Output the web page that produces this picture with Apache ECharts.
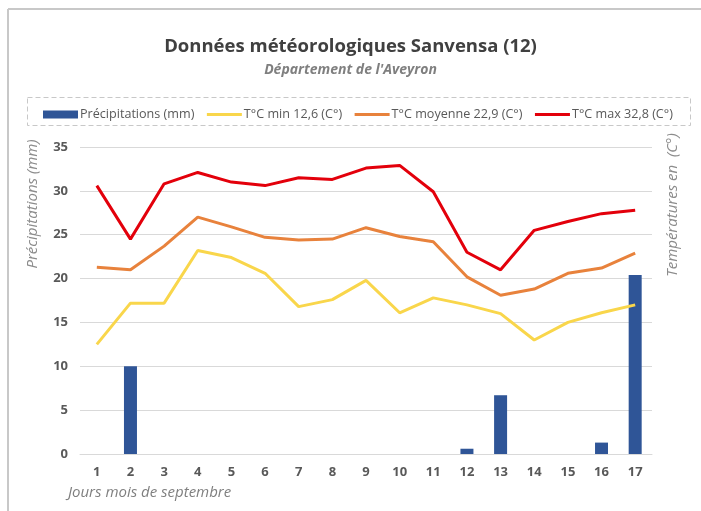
<!DOCTYPE html>
<html>
<head>
<meta charset="utf-8">
<script src="https://cdn.jsdelivr.net/npm/echarts@6/dist/echarts.min.js"></script>
<style>html,body{margin:0;padding:0;background:#fff;}#c{width:701px;height:511px;}</style>
</head>
<body>
<div id="c"></div>
<script>
const days = ['1','2','3','4','5','6','7','8','9','10','11','12','13','14','15','16','17'];
const precip = [0, 10.0, 0, 0, 0, 0, 0, 0, 0, 0, 0, 0.6, 6.7, 0, 0, 1.3, 20.4];
const tmin = [12.5, 17.2, 17.2, 23.2, 22.4, 20.6, 16.8, 17.6, 19.8, 16.1, 17.8, 17.0, 16.0, 13.0, 15.0, 16.1, 17.0];
const tmoy = [21.3, 21.0, 23.7, 27.0, 25.9, 24.7, 24.4, 24.5, 25.8, 24.8, 24.2, 20.2, 18.1, 18.8, 20.6, 21.2, 22.9];
const tmax = [30.6, 24.5, 30.8, 32.1, 31.0, 30.6, 31.5, 31.3, 32.6, 32.9, 29.9, 23.0, 21.0, 25.5, 26.5, 27.4, 27.8];
const seriesNames = ['Précipitations (mm)', 'T°C min 12,6 (C°)', 'T°C moyenne 22,9 (C°)', 'T°C max 32,8 (C°)'];

const chart = echarts.init(document.getElementById('c'), null, {renderer: 'canvas'});
const font = 'Open Sans';
const hiddenSym = {color: 'rgba(0,0,0,0)', borderColor: 'rgba(0,0,0,0)', borderWidth: 0, opacity: 0};
chart.setOption({
  animation: false,
  backgroundColor: '#fff',
  title: [
    {text: 'Données météorologiques Sanvensa (12)', left: 'center', top: 32,
     textStyle: {fontFamily: font, fontSize: 18.5, fontWeight: 'bold', color: '#404040'}},
    {text: "Département de l'Aveyron", left: 'center', top: 58,
     textStyle: {fontFamily: font, fontSize: 14, fontWeight: 'bold', fontStyle: 'italic', color: '#7f7f7f'}}
  ],
  legend: {
    left: 38, top: 103, itemWidth: 35, itemHeight: 8, itemGap: 11,
    textStyle: {fontFamily: font, fontSize: 12.6, color: '#595959', padding: [0, 0, 0, -3]},
    data: [
      {name: seriesNames[0], icon: 'rect'},
      {name: seriesNames[1], itemStyle: hiddenSym, lineStyle: {width: 3}},
      {name: seriesNames[2], itemStyle: hiddenSym, lineStyle: {width: 3}},
      {name: seriesNames[3], itemStyle: hiddenSym, lineStyle: {width: 3}}
    ]
  },
  grid: {left: 80, right: 49, top: 147, bottom: 57},
  xAxis: {
    type: 'category', data: days,
    axisLine: {lineStyle: {color: '#d9d9d9'}},
    axisTick: {show: false},
    axisLabel: {fontFamily: font, fontSize: 13, fontWeight: 'bold', color: '#595959', margin: 12}
  },
  yAxis: {
    type: 'value', min: 0, max: 35, interval: 5,
    axisLine: {show: false}, axisTick: {show: false},
    splitLine: {lineStyle: {color: '#d9d9d9'}},
    axisLabel: {fontFamily: font, fontSize: 13, fontWeight: 'bold', color: '#595959', margin: 12}
  },
  graphic: [
    {type: 'line', shape: {x1: 8, y1: 9, x2: 701, y2: 9}, style: {stroke: '#c8c8c8', lineWidth: 2}},
    {type: 'line', shape: {x1: 8, y1: 9, x2: 8, y2: 511}, style: {stroke: '#c8c8c8', lineWidth: 2}},
    {type: 'rect', shape: {x: 27.5, y: 97.5, width: 663, height: 28}, z: -1,
     style: {fill: 'none', stroke: '#c8c8c8', lineWidth: 1, lineDash: [5, 3]}},
    {type: 'text', x: 33, y: 204, rotation: Math.PI / 2,
     style: {text: 'Précipitations (mm)', font: 'italic 15px "Open Sans"', fill: '#8c8c8c', textAlign: 'center', textVerticalAlign: 'middle'}},
    {type: 'text', x: 673, y: 205, rotation: Math.PI / 2,
     style: {text: 'Températures en  (C°)', font: 'italic 15px "Open Sans"', fill: '#8c8c8c', textAlign: 'center', textVerticalAlign: 'middle'}},
    {type: 'text', x: 68, y: 493,
     style: {text: 'Jours mois de septembre', font: 'italic 15px "Open Sans"', fill: '#7f7f7f', textAlign: 'left', textVerticalAlign: 'middle'}}
  ],
  series: [
    {name: seriesNames[0], type: 'bar', data: precip, barWidth: 13, itemStyle: {color: '#2f5597'}, z: 1},
    {name: seriesNames[1], type: 'line', data: tmin, symbol: 'none', lineStyle: {color: '#f9d64b', width: 3}, itemStyle: {color: '#f9d64b'}, z: 2},
    {name: seriesNames[2], type: 'line', data: tmoy, symbol: 'none', lineStyle: {color: '#e8823c', width: 3}, itemStyle: {color: '#e8823c'}, z: 3},
    {name: seriesNames[3], type: 'line', data: tmax, symbol: 'none', lineStyle: {color: '#e3000b', width: 3}, itemStyle: {color: '#e3000b'}, z: 4}
  ]
});
</script>
</body>
</html>
